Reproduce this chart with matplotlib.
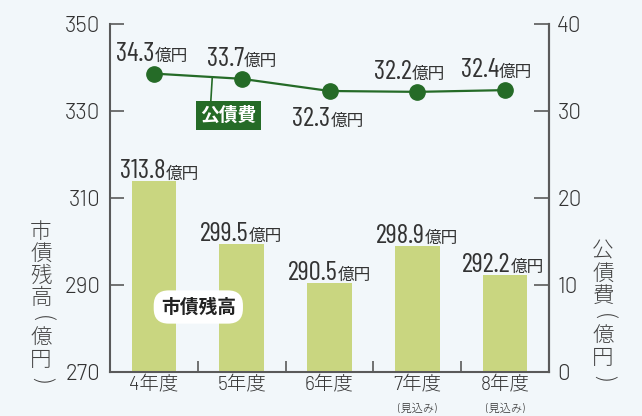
import matplotlib
matplotlib.use('Agg')
import matplotlib.pyplot as plt
from matplotlib import font_manager
from matplotlib.transforms import offset_copy

# ---- data ----
categories = ['4年度', '5年度', '6年度', '7年度', '8年度']
sub_labels = ['', '', '', '(見込み)', '(見込み)']
debt_balance = [313.8, 299.5, 290.5, 298.9, 292.2]      # 市債残高 (億円)
debt_service = [34.3, 33.7, 32.3, 32.2, 32.4]           # 公債費 (億円)
left_ticks = [270, 290, 310, 330, 350]
right_ticks = [0, 10, 20, 30, 40]
unit = '億円'
left_title = '市債残高(億円)'
right_title = '公債費(億円)'
bar_name = '市債残高'
line_name = '公債費'

# ---- layout / style ----
BG = '#f2f7fa'
BAR = '#c9d680'
LINE = '#256b27'
TXT = '#333333'
AX = '#5a5a5a'
JP = 'Noto Sans CJK JP'

names = {f.name for f in font_manager.fontManager.ttflist}


def pick(cands, default):
    for c in cands:
        if c in names:
            return c
    return default


COND = pick(['Barlow Condensed', 'Barlow Semi Condensed', 'Archivo Narrow', 'Asap Condensed'], None)
PLAIN = pick(['Barlow', 'Lato', 'Roboto'], None)
NUMFONT = [COND, JP] if COND else [JP]
NUMSIZE = 19.5 if COND else 15
TICKFONT = [PLAIN, JP] if PLAIN else [JP]
plt.rcParams['font.family'] = [JP, 'DejaVu Sans']
UNITSIZE = 12

line_label_below = [False, False, True, False, False]
line_label_dx = [-2, 0, -1.5, -7.5, -8.5]
bar_label_dx = [5.5, -1, 0, 0, -2.5]

W, H = 642, 416
fig = plt.figure(figsize=(W / 100, H / 100), dpi=100, facecolor=BG)
ax = fig.add_axes([110 / W, 44 / H, 439 / W, 348 / H])
ax.set_facecolor(BG)
x = list(range(len(categories)))

ax.bar(x, debt_balance, width=0.51, color=BAR, zorder=2)
ax.set_xlim(-0.5, len(categories) - 0.5)
ax.set_ylim(left_ticks[0], left_ticks[-1])
ax.set_yticks(left_ticks)
ax.set_xticks(x, categories)
ax.set_xticks([i + 0.5 for i in x[:-1]], minor=True)
ax.tick_params(axis='y', direction='in', length=10, width=1.2, color=AX,
               labelsize=16, labelcolor=TXT, pad=7)
ax.tick_params(axis='x', which='major', length=0, pad=3, labelsize=14, labelcolor=TXT)
ax.tick_params(axis='x', which='minor', direction='in', length=8, width=1.2, color=AX)
ax.spines['top'].set_visible(False)
for s in ['left', 'bottom', 'right']:
    ax.spines[s].set_color(AX)
    ax.spines[s].set_linewidth(1.5)

ax2 = ax.twinx()
ax2.set_ylim(right_ticks[0], right_ticks[-1])
ax2.set_yticks(right_ticks)
ax2.tick_params(axis='y', direction='in', length=11, width=1.2, color=AX,
                labelsize=16, labelcolor=TXT, pad=6)
for s in ['top', 'left', 'bottom']:
    ax2.spines[s].set_visible(False)
ax2.spines['right'].set_color(AX)
ax2.spines['right'].set_linewidth(1.5)
ax2.plot(x, debt_service, color=LINE, lw=1.6, marker='o', ms=11, zorder=3)

for lab in ax.get_yticklabels() + ax2.get_yticklabels() + ax.get_xticklabels():
    lab.set_family(TICKFONT)
    lab.set_weight(300)

# sub labels under x ticks
for i, s in enumerate(sub_labels):
    if s:
        ax.annotate(s, xy=(i, 0), xycoords=('data', 'axes fraction'),
                    xytext=(0, -37), textcoords='offset pixels',
                    ha='center', va='center', fontsize=8, color=TXT,
                    family=TICKFONT, weight=300)

fig.canvas.draw()
r = fig.canvas.get_renderer()


def measure(s, family, size):
    t = fig.text(0, 0, s, family=family, size=size)
    w = t.get_window_extent(r).width
    t.remove()
    return w


def value_label(axis, xd, yd, value, dx, dy):
    num = f'{value:.1f}'
    wn = measure(num, NUMFONT, NUMSIZE)
    wu = measure(unit, [JP], UNITSIZE)
    start = -(wn + wu) / 2 + dx
    t1 = offset_copy(axis.transData, fig=fig, x=start, y=dy, units='dots')
    t2 = offset_copy(axis.transData, fig=fig, x=start + wn, y=dy, units='dots')
    axis.text(xd, yd, num, transform=t1, ha='left', va='baseline',
              family=NUMFONT, size=NUMSIZE, color=TXT, zorder=6)
    axis.text(xd, yd, unit, transform=t2, ha='left', va='baseline',
              family=[JP], size=UNITSIZE, color=TXT, zorder=6)


for i, v in enumerate(debt_balance):
    value_label(ax, i, v, v, bar_label_dx[i], 3)
for i, v in enumerate(debt_service):
    dy = -35 if line_label_below[i] else 13
    value_label(ax2, i, v, v, line_label_dx[i], dy)

# series name tags
frac = 0.665
yline = debt_service[0] + frac * (debt_service[1] - debt_service[0])
ax2.annotate(line_name, xy=(frac, yline), xytext=(0.85, 29.5),
             ha='center', va='center', color='white', fontsize=13.5, weight='bold',
             family=[JP],
             bbox=dict(boxstyle='square,pad=0.25', fc=LINE, ec='none'),
             arrowprops=dict(arrowstyle='-', color=LINE, lw=1.2, shrinkA=0, shrinkB=0,
                             relpos=(0.18, 1.0)), zorder=7)
ax2.text(0.506, 7.47, bar_name, ha='center', va='center', color='#222222',
         fontsize=13.5, weight='bold', family=[JP],
         bbox=dict(boxstyle='round,pad=0.38,rounding_size=0.8', fc='white', ec='none'),
         zorder=7)


# vertical axis titles (stacked upright characters)
def vertical_title(text, xc, ytop):
    y = ytop
    for ch in text:
        rot = -90 if ch in '()' else 0
        h = 18 if ch in '()' else 22
        y += h / 2
        fig.text(xc / W, 1 - y / H, ch, rotation=rot, ha='center', va='center',
                 fontsize=15.5, color='#444444', family=[JP], weight=300)
        y += h / 2


vertical_title(left_title, 41, 221)
vertical_title(right_title, 603, 241)

fig.savefig('out.png', dpi=100, facecolor=BG)
